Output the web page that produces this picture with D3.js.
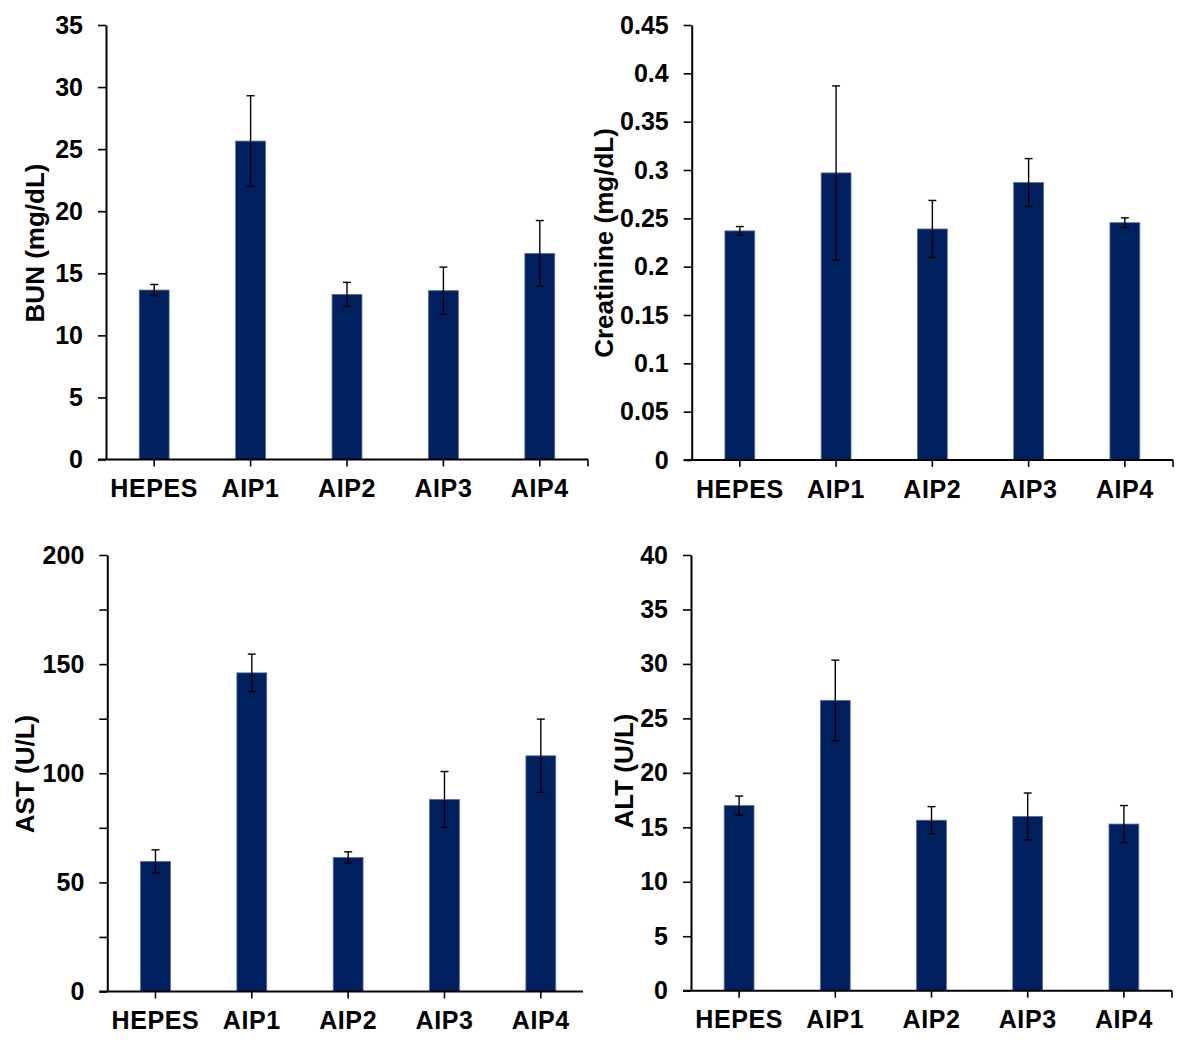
<!DOCTYPE html>
<html>
<head>
<meta charset="utf-8">
<script src="https://cdn.jsdelivr.net/npm/d3@7/dist/d3.min.js"></script>
<style>
  html, body { margin: 0; padding: 0; background: #fff; }
  svg { display: block; }
  text { font-family: "Liberation Sans", Arial, sans-serif; font-weight: bold; fill: #000; }
</style>
</head>
<body>
<svg id="chart" width="1177" height="1045"></svg>
<script>
// Groups shown on every panel
const groups = ["HEPES", "AIP1", "AIP2", "AIP3", "AIP4"];

// Blood urea nitrogen (mg/dL): means and error
const bunMean = [13.65, 25.65, 13.3, 13.6, 16.6];
const bunErr  = [0.45, 3.65, 0.97, 1.9, 2.65];
const bunTicks = [0, 5, 10, 15, 20, 25, 30, 35];

// Creatinine (mg/dL)
const creMean = [0.237, 0.297, 0.239, 0.287, 0.2455];
const creErr  = [0.0045, 0.09, 0.0295, 0.0248, 0.005];
const creTicks = [0, 0.05, 0.1, 0.15, 0.2, 0.25, 0.3, 0.35, 0.4, 0.45];

// Aspartate aminotransferase (U/L)
const astMean = [59.6, 146, 61.4, 88, 108];
const astErr  = [5.3, 8.6, 2.6, 12.8, 16.8];
const astTicks = [0, 25, 50, 75, 100, 125, 150, 175, 200];
const astLabels = [0, 50, 100, 150, 200];

// Alanine aminotransferase (U/L)
const altMean = [17.0, 26.65, 15.65, 16.0, 15.3];
const altErr  = [0.87, 3.7, 1.25, 2.15, 1.7];
const altTicks = [0, 5, 10, 15, 20, 25, 30, 35, 40];

const panels = [
  { title: "BUN (mg/dL)", mean: bunMean, err: bunErr, ticks: bunTicks, labels: bunTicks, max: 35,
    x0: 106, x1: 588, yTop: 25, yBot: 459.5, axisEnd: 588, endTick: true, titleX: 44, titleY: 243 },
  { title: "Creatinine (mg/dL)", mean: creMean, err: creErr, ticks: creTicks, labels: creTicks, max: 0.45,
    x0: 691.7, x1: 1173, yTop: 25, yBot: 460, axisEnd: 1173, endTick: true, titleX: 613, titleY: 243 },
  { title: "AST (U/L)", mean: astMean, err: astErr, ticks: astTicks, labels: astLabels, max: 200,
    x0: 107.3, x1: 589, yTop: 555, yBot: 991.5, axisEnd: 583, endTick: false, titleX: 34, titleY: 774 },
  { title: "ALT (U/L)", mean: altMean, err: altErr, ticks: altTicks, labels: altTicks, max: 40,
    x0: 691, x1: 1172, yTop: 555, yBot: 990.7, axisEnd: 1172, endTick: true, titleX: 633, titleY: 771 }
];

const svg = d3.select("#chart");
const fmt = v => String(+v.toFixed(2));

panels.forEach(p => {
  const g = svg.append("g");

  const x = d3.scaleBand()
    .domain(groups)
    .range([p.x0, p.x1])
    .paddingInner(0.69)
    .paddingOuter(0.345);

  const y = d3.scaleLinear()
    .domain([0, p.max])
    .range([p.yBot, p.yTop]);

  // Bars
  g.selectAll("rect.bar")
    .data(groups)
    .join("rect")
    .attr("class", "bar")
    .attr("x", d => x(d))
    .attr("width", x.bandwidth())
    .attr("y", (d, i) => y(p.mean[i]))
    .attr("height", (d, i) => y(0) - y(p.mean[i]))
    .attr("fill", "#002060")
    .attr("stroke", "#5b6f99")
    .attr("stroke-width", 0.8);

  // Error bars
  const eb = g.selectAll("g.err")
    .data(groups)
    .join("g")
    .attr("class", "err")
    .attr("stroke", "#000")
    .attr("stroke-width", 1.4);
  const cx = d => x(d) + x.bandwidth() / 2;
  eb.append("line")
    .attr("x1", cx).attr("x2", cx)
    .attr("y1", (d, i) => y(p.mean[i] + p.err[i]))
    .attr("y2", (d, i) => y(p.mean[i] - p.err[i]));
  [1, -1].forEach(s => {
    eb.append("line")
      .attr("x1", d => cx(d) - 4).attr("x2", d => cx(d) + 4)
      .attr("y1", (d, i) => y(p.mean[i] + s * p.err[i]))
      .attr("y2", (d, i) => y(p.mean[i] + s * p.err[i]));
  });

  // Y axis
  const yAxis = d3.axisLeft(y)
    .tickValues(p.ticks)
    .tickSize(8)
    .tickSizeOuter(0)
    .tickPadding(15)
    .tickFormat(v => p.labels.includes(v) ? fmt(v) : "");
  const ya = g.append("g")
    .attr("transform", `translate(${p.x0},0)`)
    .call(yAxis);
  ya.select(".domain").attr("stroke-width", 2);
  ya.selectAll(".tick line").attr("stroke-width", 1.6);
  ya.selectAll(".tick text")
    .style("font-size", "25px")
    .style("font-family", "'Liberation Sans', Arial, sans-serif")
    .style("font-weight", "bold")
    .attr("fill", "#000");

  // X axis
  const xAxis = d3.axisBottom(x)
    .tickSize(7)
    .tickSizeOuter(0)
    .tickPadding(13);
  const xa = g.append("g")
    .attr("transform", `translate(0,${p.yBot})`)
    .call(xAxis);
  xa.select(".domain").remove();
  xa.append("line")
    .attr("x1", p.x0 - 8).attr("x2", p.axisEnd)
    .attr("stroke", "#000").attr("stroke-width", 2);
  if (p.endTick) {
    xa.append("line")
      .attr("x1", p.axisEnd).attr("x2", p.axisEnd)
      .attr("y1", 0).attr("y2", 7)
      .attr("stroke", "#000").attr("stroke-width", 1.6);
  }
  xa.selectAll(".tick line").attr("stroke-width", 1.6);
  xa.selectAll(".tick text")
    .style("font-size", "25px")
    .style("font-family", "'Liberation Sans', Arial, sans-serif")
    .style("font-weight", "bold")
    .style("letter-spacing", "0.6px")
    .attr("fill", "#000");

  // Axis title
  g.append("text")
    .attr("transform", `translate(${p.titleX},${p.titleY}) rotate(-90)`)
    .attr("text-anchor", "middle")
    .style("font-size", "26px")
    .text(p.title);
});
</script>
</body>
</html>
